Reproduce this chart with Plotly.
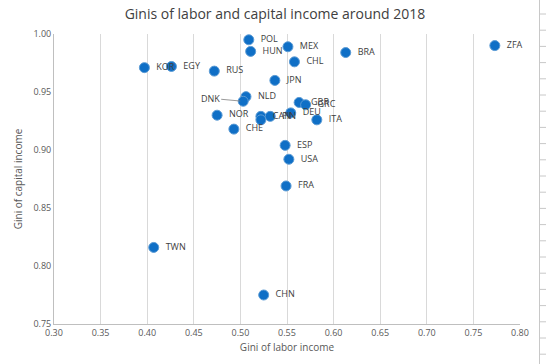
import plotly.graph_objects as go

countries = ["POL", "MEX", "HUN", "ZFA", "BRA", "CHL", "KOR", "EGY", "RUS", "JPN",
             "NLD", "DNK", "GBR", "GRC", "NOR", "DEU", "ITA", "CAN", "FIN", "",
             "CHE", "ESP", "USA", "FRA", "TWN", "CHN"]
labor_gini = [0.509, 0.551, 0.511, 0.773, 0.613, 0.558, 0.397, 0.426, 0.472, 0.537,
              0.506, 0.503, 0.563, 0.570, 0.475, 0.554, 0.582, 0.522, 0.532, 0.522,
              0.493, 0.548, 0.552, 0.549, 0.407, 0.525]
capital_gini = [0.995, 0.989, 0.985, 0.990, 0.984, 0.976, 0.971, 0.972, 0.968, 0.960,
                0.946, 0.942, 0.941, 0.939, 0.930, 0.932, 0.926, 0.929, 0.929, 0.926,
                0.918, 0.904, 0.892, 0.869, 0.816, 0.775]

x_ticks = [0.30, 0.35, 0.40, 0.45, 0.50, 0.55, 0.60, 0.65, 0.70, 0.75, 0.80]
y_ticks = [0.75, 0.80, 0.85, 0.90, 0.95, 1.00]

FONT = "Open Sans"
TXT = "#595959"
NB = "\u00a0"

point_text = ["" if (c == "DNK" or c == "") else NB * 2 + c for c in countries]

fig = go.Figure()
fig.add_trace(go.Scatter(
    x=labor_gini, y=capital_gini, mode="markers+text",
    text=point_text, textposition="middle right",
    textfont=dict(family=FONT, size=9, color="#404040"),
    marker=dict(size=10, color="#0F6FC6", line=dict(color="#5B9BD5", width=1)),
    cliponaxis=False, showlegend=False, hoverinfo="skip",
))

i = countries.index("DNK")
fig.add_annotation(x=labor_gini[i], y=capital_gini[i], text="DNK",
                   showarrow=True, arrowhead=0, arrowwidth=0.8, arrowcolor="#7F7F7F",
                   ax=-33, ay=-3, standoff=3,
                   font=dict(family=FONT, size=9, color="#404040"))

# plot area at x 54..520, y 34..324 (page pixels)
def fx(px):
    return (px - 54) / 466
def fy(py):
    return (324 - py) / 290

# spreadsheet edge at right
fig.add_shape(type="line", xref="paper", yref="paper",
              x0=fx(539.5), x1=fx(539.5), y0=fy(0), y1=fy(364),
              line=dict(color="#C8C8C8", width=1), layer="above")
py = 14.0
while py < 364:
    fig.add_shape(type="line", xref="paper", yref="paper",
                  x0=fx(539.5), x1=fx(546), y0=fy(py), y1=fy(py),
                  line=dict(color="#C8C8C8", width=1), layer="above")
    py += 16.2

fig.update_layout(
    width=546, height=364,
    margin=dict(l=54, r=26, t=34, b=40, autoexpand=False),
    paper_bgcolor="white", plot_bgcolor="white",
    hovermode=False,
    title=dict(text="Ginis of labor and capital income around 2018",
               x=275 / 546, xanchor="center",
               y=1 - 14.5 / 364, yanchor="middle",
               font=dict(family=FONT, size=14, color="#404040")),
    xaxis=dict(range=[0.30, 0.80], tickvals=x_ticks, automargin=False,
               ticktext=[f"{v:.2f}" for v in x_ticks],
               showgrid=True, gridcolor="#D9D9D9", gridwidth=1,
               showline=True, linecolor="#BFBFBF", linewidth=1,
               zeroline=False, ticks="", ticklen=0,
               tickfont=dict(family=FONT, size=9, color=TXT),
               title=dict(text="Gini of labor income", standoff=6,
                          font=dict(family=FONT, size=10, color=TXT))),
    yaxis=dict(range=[0.75, 1.00], tickvals=y_ticks, automargin=False,
               ticktext=[f"{v:.2f}" for v in y_ticks],
               showgrid=False,
               showline=True, linecolor="#BFBFBF", linewidth=1,
               zeroline=False, ticks="",
               tickfont=dict(family=FONT, size=9, color=TXT),
               title=dict(text="Gini of capital income", standoff=8,
                          font=dict(family=FONT, size=10, color=TXT))),
)

fig.write_html("out.html", config={"displayModeBar": False},
               post_script="document.body.style.margin='0';document.body.style.overflow='hidden';")
